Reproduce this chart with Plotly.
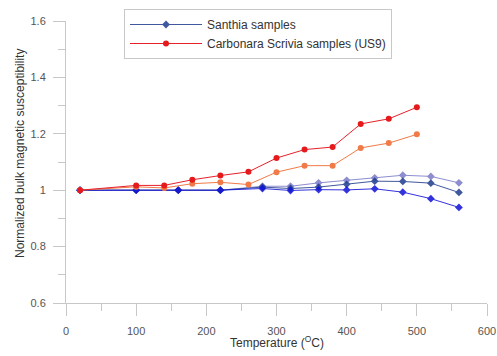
import plotly.graph_objects as go

# Carbonara Scrivia (US9)
temp_c = [20, 100, 140, 180, 220, 260, 300, 340, 380, 420, 460, 500]
carb_a = [1.0, 1.017, 1.017, 1.037, 1.052, 1.065, 1.114, 1.144, 1.153, 1.235, 1.253, 1.294]
carb_b = [1.0, 1.012, 1.008, 1.023, 1.028, 1.020, 1.064, 1.087, 1.087, 1.150, 1.167, 1.198]

# Santhia
temp_s = [20, 100, 160, 220, 280, 320, 360, 400, 440, 480, 520, 560]
san_a = [1.0, 1.0, 1.0, 1.0, 1.006, 0.999, 1.002, 1.001, 1.005, 0.993, 0.970, 0.939]
san_b = [1.0, 1.0, 1.0, 1.0, 1.011, 1.006, 1.011, 1.021, 1.032, 1.031, 1.025, 0.992]
san_c = [1.0, 1.0, 1.0, 1.0, 1.014, 1.014, 1.026, 1.035, 1.044, 1.053, 1.049, 1.026]

x_ticks = [0, 100, 200, 300, 400, 500, 600]
y_ticks = [0.6, 0.8, 1.0, 1.2, 1.4, 1.6]
y_ticktext = ["0.6", "0.8", "1", "1.2", "1.4", "1.6"]

fig = go.Figure()

blue_series = [
    (san_c, "#7a7ac8", False, "Santhia c"),
    (san_b, "#1f3b8c", True, "Santhia samples"),
    (san_a, "#1010d8", False, "Santhia a"),
]
for vals, col, show, name in blue_series:
    fig.add_trace(go.Scatter(
        x=temp_s, y=vals, mode="lines+markers", name=name, showlegend=show,
        line=dict(color=col, width=1), opacity=0.85,
        marker=dict(symbol="diamond", size=6, color=col),
    ))

fig.add_trace(go.Scatter(
    x=temp_c, y=carb_b, mode="lines+markers", name="Carbonara b", showlegend=False,
    line=dict(color="#f07a48", width=1), marker=dict(symbol="circle", size=6, color="#f07a48"),
))
fig.add_trace(go.Scatter(
    x=temp_c, y=carb_a, mode="lines+markers", name="Carbonara Scrivia samples (US9)",
    line=dict(color="#e8202a", width=1), marker=dict(symbol="circle", size=6, color="#e41a1c"),
))

axis_common = dict(
    showline=True, linecolor="#c8c8c8", linewidth=1,
    ticks="outside", tickcolor="#c8c8c8", ticklen=12,
    showgrid=False, zeroline=False, automargin=False,
    tickfont=dict(family="Liberation Sans, Arial", size=11, color="#555555"),
)

W, H = 497, 356
plot_top, plot_bottom, plot_left, plot_right = 21, 303, 66, 487

fig.update_layout(
    width=W, height=H,
    margin=dict(l=plot_left, r=W - plot_right, t=plot_top, b=H - plot_bottom, autoexpand=False),
    paper_bgcolor="white", plot_bgcolor="white",
    font=dict(family="Liberation Sans, Arial", color="#333333"),
    legend=dict(
        x=(124 - plot_left) / (plot_right - plot_left),
        y=(plot_bottom - 9) / (plot_bottom - plot_top),
        xanchor="left", yanchor="top",
        bordercolor="#c8c8c8", borderwidth=1, bgcolor="white",
        font=dict(size=12, color="#333333"),
        tracegroupgap=0, itemwidth=72,
    ),
    xaxis=dict(
        range=[0, 600], tickvals=x_ticks, ticktext=[str(v) for v in x_ticks],
        ticklabelstandoff=6,
        minor=dict(ticks="outside", dtick=50, ticklen=7, tickcolor="#c8c8c8"),
        **axis_common,
    ),
    yaxis=dict(
        range=[0.6, 1.6], tickvals=y_ticks, ticktext=y_ticktext,
        ticklabelstandoff=5,
        minor=dict(ticks="outside", dtick=0.1, ticklen=7, tickcolor="#c8c8c8"),
        **axis_common,
    ),
    annotations=[
        dict(text="Temperature (<sup>O</sup>C)", xref="paper", yref="paper",
             x=(277 - plot_left) / (plot_right - plot_left),
             y=(plot_bottom - 342) / (plot_bottom - plot_top),
             xanchor="center", yanchor="middle", showarrow=False,
             font=dict(size=12, color="#333333")),
        dict(text="Normalized bulk magnetic susceptibility", xref="paper", yref="paper",
             x=(20 - plot_left) / (plot_right - plot_left),
             y=(plot_bottom - 154) / (plot_bottom - plot_top),
             xanchor="center", yanchor="middle", showarrow=False, textangle=-90,
             font=dict(size=12, color="#333333")),
    ],
)

fig.write_html(
    "out.html",
    config={"displayModeBar": False},
    post_script="document.body.style.margin='0';document.body.style.overflow='hidden';",
)
